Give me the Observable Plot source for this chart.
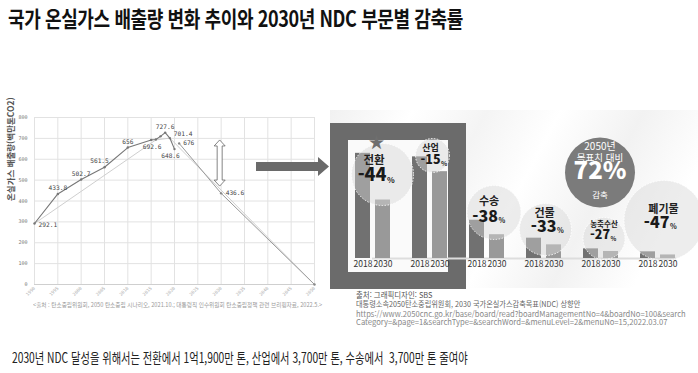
<!DOCTYPE html>
<html lang="ko"><head><meta charset="utf-8">
<script src="https://cdn.jsdelivr.net/npm/d3@7"></script>
<script src="https://cdn.jsdelivr.net/npm/@observablehq/plot@0.6"></script>
<style>
html,body{margin:0;padding:0}
body{width:698px;height:373px;overflow:hidden;background:#fff;position:relative;font-family:"Noto Sans CJK KR","Noto Sans",sans-serif}
.abs{position:absolute}
.fit{white-space:nowrap;line-height:1;transform-origin:0 50%;display:inline-block}
</style></head><body>
<div class="abs" style="left:330px;top:110px;width:368px;height:178px;background:linear-gradient(118deg,#f1f1f1 0%,#fff 18%,#f4f4f4 34%,#fff 50%,#f2f2f2 68%,#fff 86%)"></div>
<div class="abs" style="left:330px;top:123px;width:136px;height:166px;background:#6b6b6b"></div>
<div class="abs" style="left:348px;top:140px;width:100px;height:132px;background:#fafafa"></div>
<div id="left" class="abs" style="left:0;top:100px"></div>
<div id="right" class="abs" style="left:330px;top:100px"></div>
<svg class="abs" style="left:255px;top:156px" width="76" height="22"><polygon points="1,6 63,6 63,1 74,10.5 63,20 63,15 1,15" fill="#6a6a6a"/></svg>

<div class="abs fit" data-w="455" style="left:8px;top:6px;font-size:22px;font-weight:700;color:#111;letter-spacing:-0.5px">국가 온실가스 배출량 변화 추이와 2030년 NDC 부문별 감축률</div>
<div class="abs fit" data-w="289" style="left:33px;top:302px;font-size:6px;color:#999">&lt;출처 : 탄소중립위원회, 2050 탄소중립 시나리오, 2021.10.; 대통령직 인수위원회 탄소중립정책 관련 브리핑자료, 2022.5.&gt;</div>
<div class="abs fit" data-w="77" style="left:356px;top:291px;font-size:8px;color:#555">출처: 그래픽디자인: SBS</div>
<div class="abs fit" data-w="224" style="left:356px;top:300px;font-size:8px;color:#666">대통령소속2050탄소중립위원회, 2030 국가온실가스감축목표(NDC) 상향안</div>
<div class="abs fit" data-w="330" style="left:356px;top:310px;font-size:8px;color:#888">https://www.2050cnc.go.kr/base/board/read?boardManagementNo=4&amp;boardNo=100&amp;search</div>
<div class="abs fit" data-w="311" style="left:356px;top:318px;font-size:8px;color:#888">Category=&amp;page=1&amp;searchType=&amp;searchWord=&amp;menuLevel=2&amp;menuNo=15,2022.03.07</div>
<div class="abs fit" data-w="456" style="left:12px;top:350px;font-size:14px;color:#222">2030년 NDC 달성을 위해서는 전환에서 1억1,900만 톤, 산업에서 3,700만 톤, 수송에서&nbsp; 3,700만 톤 줄여야</div>

<script>
// ---------- Left chart data ----------
const actualYears  = [1990, 1995, 2000, 2005, 2010, 2015, 2016, 2017, 2018, 2019, 2020];
const actualValues = [292.1, 433.8, 502.7, 561.5, 656, 692.6, 694.5, 709.7, 727.6, 701.4, 648.6];
const pathYears    = [2021, 2030, 2050];
const pathValues   = [676, 436.6, 0];
const refYears     = [1990, 2016, 2019, 2030, 2050];
const refValues    = [292.1, 692.6, 701.4, 452, 0];
const xTicks = d3.range(1990, 2051, 5);
const yTicks = d3.range(0, 801, 100);
const yTitle = "온실가스 배출량(백만톤CO2)";
const gapArrow = {year: 2030, from: 690, to: 469};

// ---------- Right chart data ----------
const sectors        = ["전환", "산업", "수송", "건물", "농축수산", "폐기물"];
const emissions2018  = [269.6, 260.5, 98.1, 52.1, 24.7, 17.1];
const emissions2030  = [149.9, 222.6, 61.0, 35.0, 18.0, 9.1];
const reductionPct   = [-44, -15, -38, -33, -27, -47];
const barYears       = ["2018", "2030"];
const targetLines    = ["2050년", "목표치 대비", "72%", "감축"];
const targetSector   = "농축수산";

// ---------- build tables ----------
const actual = actualYears.map((y, i) => ({year: y, value: actualValues[i]}));
const path   = pathYears.map((y, i) => ({year: y, value: pathValues[i]}));
const ref    = refYears.map((y, i) => ({year: y, value: refValues[i]}));

const labelPlacement = [
  {year: 1990, src: actual, dx: 4, dy: 1, anchor: "start"},
  {year: 1995, src: actual, dx: 0, dy: -6, anchor: "middle"},
  {year: 2000, src: actual, dx: 0, dy: -6, anchor: "middle"},
  {year: 2005, src: actual, dx: -5, dy: -6, anchor: "middle"},
  {year: 2010, src: actual, dx: 0, dy: -6, anchor: "middle"},
  {year: 2015, src: actual, dx: 1, dy: 7, anchor: "middle"},
  {year: 2018, src: actual, dx: 0, dy: -5.5, anchor: "middle"},
  {year: 2019, src: actual, dx: 4, dy: -4, anchor: "start"},
  {year: 2020, src: actual, dx: -4, dy: 6.5, anchor: "middle"},
  {year: 2021, src: path, dx: 4, dy: 0, anchor: "start"},
  {year: 2030, src: path, dx: 4.5, dy: 0, anchor: "start"}
];

const labelMarks = labelPlacement.map(p => Plot.text(p.src.filter(d => d.year === p.year), {
  x: "year", y: "value", text: d => String(d.value), dx: p.dx, dy: p.dy, textAnchor: p.anchor,
  fontSize: 6.2, fill: "#444"
}));

function doubleArrow(index, scales) {
  if (!scales || !scales.x) return null;
  const ns = "http://www.w3.org/2000/svg";
  const cx = scales.x(gapArrow.year) - 1, y1 = scales.y(gapArrow.from), y2 = scales.y(gapArrow.to);
  const w = 5.5, s = 2.5, h = 6;
  const pts = [[cx, y1], [cx + w, y1 + h], [cx + s, y1 + h], [cx + s, y2 - h], [cx + w, y2 - h], [cx, y2],
               [cx - w, y2 - h], [cx - s, y2 - h], [cx - s, y1 + h], [cx - w, y1 + h]];
  const poly = document.createElementNS(ns, "polygon");
  poly.setAttribute("points", pts.map(p => p.join(",")).join(" "));
  poly.setAttribute("fill", "#fff");
  poly.setAttribute("stroke", "#666");
  poly.setAttribute("stroke-width", "0.8");
  const g = document.createElementNS(ns, "g");
  g.appendChild(poly);
  return g;
}

const left = Plot.plot({
  width: 330, height: 200,
  marginLeft: 34, marginRight: 16, marginTop: 17, marginBottom: 16,
  x: {domain: [1990, 2050]},
  y: {domain: [0, 800]},
  style: {background: "transparent", fontFamily: "DejaVu Sans Mono, monospace", overflow: "visible"},
  marks: [
    Plot.gridX(xTicks, {stroke: "#e2e2e2", strokeOpacity: 1}),
    Plot.gridY(yTicks, {stroke: "#e2e2e2", strokeOpacity: 1}),
    Plot.ruleY([0], {stroke: "#cfcfcf"}),
    Plot.axisY(yTicks, {tickSize: 0, tickPadding: 7, fontSize: 5, fill: "#777", label: null}),
    Plot.axisX(xTicks, {tickSize: 0, tickPadding: 3, tickRotate: -45, fontSize: 4.5, fill: "#aaa", label: null, tickFormat: d => String(d)}),
    Plot.text([yTitle], {frameAnchor: "left", rotate: -90, dx: -23, fontSize: 8.5, fontWeight: 700, fill: "#555", fontFamily: "Noto Sans CJK KR"}),
    Plot.line(ref, {x: "year", y: "value", stroke: "#cfcfcf", strokeWidth: 1}),
    Plot.line(path, {x: "year", y: "value", stroke: "#9a9a9a", strokeWidth: 1}),
    Plot.line(actual, {x: "year", y: "value", stroke: "#777", strokeWidth: 1.1}),
    Plot.dot(actual, {x: "year", y: "value", r: 1.2, fill: "#777"}),
    Plot.dot(path, {x: "year", y: "value", r: 1.2, fill: "#888"}),
    ...labelMarks,
    doubleArrow
  ]
});
document.getElementById("left").appendChild(left);

// ---------- Right chart ----------
const bars = sectors.flatMap((s, i) => [
  {sector: s, year: barYears[0], value: emissions2018[i]},
  {sector: s, year: barYears[1], value: emissions2030[i]}
]);
const sectorRows = sectors.map((s, i) => ({sector: s, pct: reductionPct[i]}));

// annotation layout (offsets from group centre / baseline; styles only)
const bubbleLayout = {
  "전환":    {cdx: 9.5, cdy: -84, r: 31, ndx: 1,   ndy: -95,  ns: 11.5, pdx: 13.5, pdy: -78,   ps: 18, qs: 8},
  "산업":    {cdx: 2.5, cdy: -103, r: 17, ndx: 0.5, ndy: -107.5, ns: 9, pdx: 10.5, pdy: -94.5, ps: 12.5, qs: 6.5},
  "수송":    {cdx: 7,   cdy: -46, r: 27, ndx: 2,   ndy: -54,  ns: 11,  pdx: 11,   pdy: -37,   ps: 16, qs: 7},
  "건물":    {cdx: 1.5, cdy: -29, r: 26, ndx: 0.5, ndy: -42,  ns: 11,  pdx: 12.5, pdy: -27,   ps: 16, qs: 7},
  "농축수산": {cdx: 3,   cdy: -20, r: 21, ndx: 3,   ndy: -31.5, ns: 7.5, pdx: 9,   pdy: -19.5, ps: 12.5, qs: 6},
  "폐기물":   {cdx: 6,   cdy: -38, r: 40, ndx: 5.5, ndy: -46,  ns: 11,  pdx: 11.5, pdy: -31,   ps: 16, qs: 7}
};
const barGap = 20; // px offset between the two bars of a group (style)

const bubbleMarks = sectorRows.map(row => {
  const L = bubbleLayout[row.sector];
  return Plot.dot([row], {x: "sector", frameAnchor: "bottom", dx: L.cdx, dy: L.cdy, r: L.r,
    fill: "#d6d6d6", fillOpacity: 0.45, stroke: "#fff", strokeWidth: 0.9, strokeDasharray: "1.5,1.5"});
});
const textMarks = sectorRows.flatMap(row => {
  const L = bubbleLayout[row.sector];
  const marks = [
    Plot.text([row], {x: "sector", frameAnchor: "bottom", text: "sector", dx: L.ndx, dy: L.ndy,
      fontSize: L.ns, fontWeight: 700, fill: "#222"}),
    Plot.text([row], {x: "sector", frameAnchor: "bottom", text: d => String(d.pct), dx: L.pdx, dy: L.pdy,
      textAnchor: "end", fontSize: L.ps, fontWeight: 900, fill: "#1a1a1a", letterSpacing: "-0.5px"}),
    Plot.text([row], {x: "sector", frameAnchor: "bottom", text: () => "%", dx: L.pdx + 0.5, dy: L.pdy + L.ps * 0.12,
      textAnchor: "start", fontSize: L.qs, fontWeight: 700, fill: "#1a1a1a"})
  ];
  if (row.sector === sectors[0]) {
    marks.push(Plot.text([row], {x: "sector", frameAnchor: "bottom", text: () => "★", dx: 3.5, dy: -111,
      fontSize: 16, fill: "#6f6f6f"}));
  }
  return marks;
});

const targetRow = [{sector: targetSector}];
const targetMarks = [
  Plot.dot(targetRow, {x: "sector", frameAnchor: "bottom", dx: -1, dy: -86, r: 35, fill: "#7b7b7b"}),
  Plot.text(targetRow, {x: "sector", frameAnchor: "bottom", text: () => targetLines[0], dx: -1, dy: -109, fontSize: 10, fill: "#fff"}),
  Plot.text(targetRow, {x: "sector", frameAnchor: "bottom", text: () => targetLines[1], dx: -1, dy: -97.5, fontSize: 9.5, fill: "#fff"}),
  Plot.text(targetRow, {x: "sector", frameAnchor: "bottom", text: () => targetLines[2], dx: -1, dy: -80, fontSize: 24, fontWeight: 900, fill: "#fff"}),
  Plot.text(targetRow, {x: "sector", frameAnchor: "bottom", text: () => targetLines[3], dx: -1, dy: -61, fontSize: 8.5, fill: "#fff"})
];

const bars18 = bars.filter(d => d.year === barYears[0]);
const bars30 = bars.filter(d => d.year === barYears[1]);

const right = Plot.plot({
  width: 368, height: 195,
  marginLeft: 24, marginRight: 22, marginTop: 0, marginBottom: 37,
  x: {domain: sectors, paddingInner: 0.39, paddingOuter: 0, axis: null},
  y: {domain: [0, 405], axis: null},
  style: {background: "transparent", fontFamily: "Noto Sans CJK KR, sans-serif", overflow: "visible"},
  marks: [
    Plot.ruleY([0], {stroke: "#dddddd", strokeWidth: 2, insetLeft: 18}),
    Plot.barY(bars18, {x: "sector", y: "value", fill: "#717171", insetRight: barGap}),
    Plot.barY(bars30, {x: "sector", y: "value", fill: "#999999", insetLeft: barGap}),
    targetMarks[0],
    ...bubbleMarks,
    ...targetMarks.slice(1),
    ...textMarks,
    Plot.text(bars18, {x: "sector", frameAnchor: "bottom", text: "year", dx: -barGap / 2, dy: 8, fontSize: 8.5, fill: "#333"}),
    Plot.text(bars30, {x: "sector", frameAnchor: "bottom", text: "year", dx: barGap / 2, dy: 8, fontSize: 8.5, fill: "#333"})
  ]
});
document.getElementById("right").appendChild(right);

function fitAll() {
  document.querySelectorAll(".fit").forEach(el => {
    el.style.transform = "none";
    const w = el.offsetWidth, t = +el.dataset.w;
    if (w && t) el.style.transform = `scaleX(${t / w})`;
  });
}
fitAll();
if (document.fonts && document.fonts.ready) document.fonts.ready.then(fitAll);
</script>
</body></html>
